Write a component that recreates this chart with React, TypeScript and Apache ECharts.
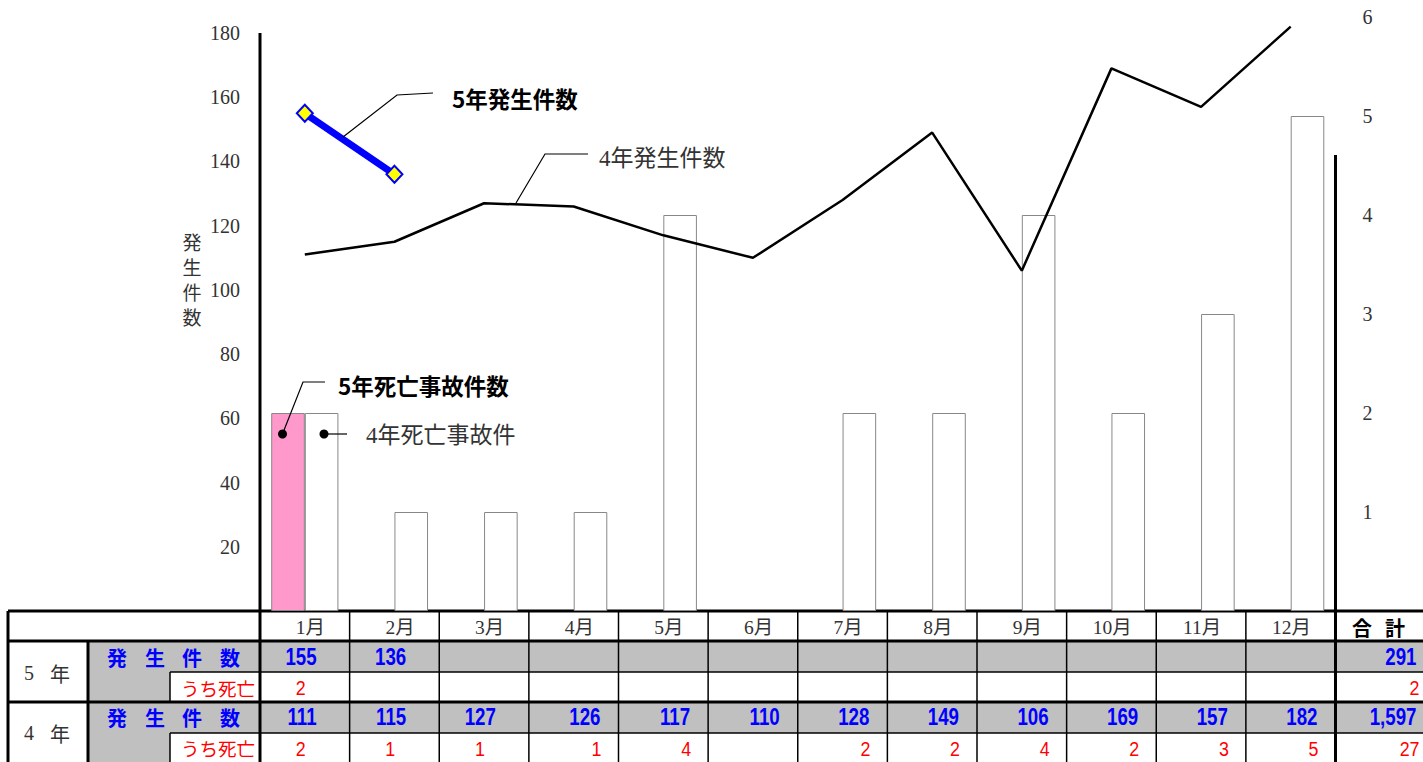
import React, { useEffect, useRef } from "react";
import * as echarts from "echarts";

// ---------- data ----------
const MONTHS = ["1月", "2月", "3月", "4月", "5月", "6月", "7月", "8月", "9月", "10月", "11月", "12月"];
const CASES_R5: (number | null)[] = [155, 136, null, null, null, null, null, null, null, null, null, null];
const DEATHS_R5: (number | null)[] = [2, null, null, null, null, null, null, null, null, null, null, null];
const CASES_R4: (number | null)[] = [111, 115, 127, 126, 117, 110, 128, 149, 106, 169, 157, 182];
const DEATHS_R4: (number | null)[] = [2, 1, 1, 1, 4, null, 2, 2, 4, 2, 3, 5];
const LEFT_MAX = 185;
const LEFT_STEP = 20;
const RIGHT_MAX = 6;
const RIGHT_STEP = 1;

// ---------- layout ----------
const W = 1423;
const H = 762;
const GRID_L = 260;
const GRID_R = 1335.5;
const GRID_T = 17;
const GRID_B = 611;
const SERIF = "'Liberation Serif','Noto Sans CJK JP',serif";
const GOTHIC = "'Noto Sans CJK JP','Liberation Sans',sans-serif";
const NUM = "'Liberation Sans',Arial,sans-serif";

const sum = (a: (number | null)[]) => a.reduce((s: number, v) => s + (v ?? 0), 0);
const fmt = (n: number) => n.toLocaleString("en-US");

function buildGraphic() {
  const g: any[] = [];
  const colW = (GRID_R - GRID_L) / 12;
  const colRight = (i: number) => GRID_L + (i + 1) * colW;
  const line = (x1: number, y1: number, x2: number, y2: number, w: number) =>
    g.push({ type: "line", silent: true, shape: { x1, y1, x2, y2 }, style: { stroke: "#000", lineWidth: w } });
  const rect = (x: number, y: number, w: number, h: number, fill: string) =>
    g.push({ type: "rect", silent: true, shape: { x, y, width: w, height: h }, style: { fill } });
  const text = (x: number, y: number, t: string, font: string, fill: string, align = "left", scaleX = 1, z = 0) =>
    g.push({
      type: "text",
      silent: true,
      x,
      y,
      z,
      scaleX,
      style: { text: t, font, fill, align, verticalAlign: "middle" },
    });

  // table gray cells
  const rows = [611, 641, 672, 702, 733, 762];
  rect(88, rows[1], W - 88, rows[2] - rows[1], "#C0C0C0");
  rect(88, rows[2], 82, rows[3] - rows[2], "#C0C0C0");
  rect(88, rows[3], W - 88, rows[4] - rows[3], "#C0C0C0");
  rect(88, rows[4], 82, rows[5] - rows[4], "#C0C0C0");

  // table lines
  line(8, rows[0], W, rows[0], 3);
  line(8, rows[1], W, rows[1], 3);
  line(170, rows[2], W, rows[2], 1.5);
  line(8, rows[3], W, rows[3], 3);
  line(170, rows[4], W, rows[4], 1.5);
  line(8, rows[0], 8, H, 3);
  line(88, rows[1], 88, H, 3);
  line(170, rows[2], 170, rows[3], 1.5);
  line(170, rows[4], 170, H, 1.5);
  for (let i = 0; i < 11; i++) line(colRight(i), rows[0], colRight(i), H, 1.5);
  // axis lines (continuing into table)
  line(GRID_L, 33, GRID_L, H, 3);
  line(GRID_R, 155, GRID_R, H, 3);

  // header row
  MONTHS.forEach((m, i) => text(colRight(i) - 24.5, 627, m, `19.5px ${SERIF}`, "#333", "right"));
  text(1362, 627, "合", `bold 20px ${GOTHIC}`, "#000", "center");
  text(1395, 627, "計", `bold 20px ${GOTHIC}`, "#000", "center");

  // left labels
  const yearRows = [
    { label: "5", cy: 673, casesY: 657, deathsY: 687.5, cases: CASES_R5, deaths: DEATHS_R5 },
    { label: "4", cy: 733, casesY: 717.5, deathsY: 748, cases: CASES_R4, deaths: DEATHS_R4 },
  ];
  const hdrChars = ["発", "生", "件", "数"];
  const hdrX = [117, 155, 192, 230];
  yearRows.forEach((r) => {
    text(29, r.cy, r.label, `20px ${SERIF}`, "#333", "center");
    text(60, r.cy, "年", `20px ${GOTHIC}`, "#333", "center");
    hdrChars.forEach((c, k) => text(hdrX[k], r.casesY, c, `bold 20px ${GOTHIC}`, "#0000FF", "center"));
    text(255, r.deathsY, "うち死亡", `18.5px ${GOTHIC}`, "#FF0000", "right");
    r.cases.forEach((v, i) => {
      if (v == null) return;
      text(colRight(i) - (i < 3 ? 33 : 18), r.casesY, String(v), `bold 24px ${NUM}`, "#0000FF", "right", 0.78);
    });
    r.deaths.forEach((v, i) => {
      if (v == null) return;
      text(colRight(i) - (i < 3 ? 49 : 22), r.deathsY, String(v), `21px ${NUM}`, "#FF0000", "center", 0.85);
    });
    text(1416.5, r.casesY, fmt(sum(r.cases)), `bold 24px ${NUM}`, "#0000FF", "right", 0.78);
    text(1419.5, r.deathsY, fmt(sum(r.deaths)), `21px ${NUM}`, "#FF0000", "right", 0.85);
  });

  // y-axis title
  g.push({
    type: "text",
    silent: true,
    x: 192,
    y: 279,
    style: {
      text: "発\n生\n件\n数",
      font: `19px ${GOTHIC}`,
      fill: "#333",
      align: "center",
      verticalAlign: "middle",
      lineHeight: 25,
    },
  });

  // annotations (above the series)
  const Z = 50;
  const poly = (pts: number[][]) =>
    g.push({ type: "polyline", silent: true, z: Z, shape: { points: pts }, style: { stroke: "#000", lineWidth: 1.2, fill: null } });
  const dot = (cx: number, cy: number) =>
    g.push({ type: "circle", silent: true, z: Z, shape: { cx, cy, r: 4.5 }, style: { fill: "#000" } });
  poly([[343, 137], [397, 95], [433, 93]]);
  text(452, 98, "5年発生件数", `bold 22.5px ${GOTHIC}`, "#000", "left", 1, Z);
  poly([[516, 203], [545, 154], [588, 154]]);
  text(599, 158, "4年発生件数", `23px ${SERIF}`, "#333", "left", 1, Z);
  poly([[282.5, 434], [303, 382], [325, 382]]);
  dot(282.5, 434);
  text(338, 385, "5年死亡事故件数", `bold 22.5px ${GOTHIC}`, "#000", "left", 1, Z);
  poly([[324, 434], [347, 434]]);
  dot(324, 434);
  text(366, 435, "4年死亡事故件", `23px ${SERIF}`, "#333", "left", 1, Z);

  return g;
}

export default function App() {
  const ref = useRef<HTMLDivElement>(null);
  useEffect(() => {
    if (!ref.current) return;
    const chart = echarts.init(ref.current, null, { renderer: "svg" });
    chart.setOption({
      animation: false,
      backgroundColor: "#fff",
      grid: { left: GRID_L, right: W - GRID_R, top: GRID_T, bottom: H - GRID_B, containLabel: false },
      xAxis: {
        type: "category",
        data: MONTHS,
        boundaryGap: true,
        axisLine: { show: false },
        axisTick: { show: false },
        axisLabel: { show: false },
        splitLine: { show: false },
      },
      yAxis: [
        {
          type: "value",
          min: 0,
          max: LEFT_MAX,
          interval: LEFT_STEP,
          axisLine: { show: false },
          axisTick: { show: false },
          splitLine: { show: false },
          axisLabel: {
            margin: 20,
            color: "#333",
            fontSize: 20,
            fontFamily: SERIF,
            formatter: (v: number) => (v === 0 || v % LEFT_STEP !== 0 ? "" : String(v)),
          },
        },
        {
          type: "value",
          position: "right",
          min: 0,
          max: RIGHT_MAX,
          interval: RIGHT_STEP,
          axisLine: { show: false },
          axisTick: { show: false },
          splitLine: { show: false },
          axisLabel: {
            margin: 27,
            color: "#333",
            fontSize: 20,
            fontFamily: SERIF,
            formatter: (v: number) => (v === 0 ? "" : String(v)),
          },
        },
      ],
      series: [
        {
          type: "bar",
          name: "5年死亡事故件数",
          yAxisIndex: 1,
          data: DEATHS_R5,
          barWidth: 33.6,
          barGap: "0%",
          itemStyle: { color: "#FF99CC", borderColor: "#888", borderWidth: 1 },
        },
        {
          type: "bar",
          name: "4年死亡事故件",
          yAxisIndex: 1,
          data: DEATHS_R4,
          barWidth: 33.6,
          barGap: "0%",
          itemStyle: { color: "#fff", borderColor: "#888", borderWidth: 1 },
        },
        {
          type: "line",
          name: "4年発生件数",
          yAxisIndex: 0,
          data: CASES_R4,
          symbol: "none",
          lineStyle: { color: "#000", width: 2.5 },
        },
        {
          type: "line",
          name: "5年発生件数",
          yAxisIndex: 0,
          data: CASES_R5,
          symbol: "diamond",
          symbolSize: [16, 17],
          lineStyle: { color: "#0000FF", width: 7 },
          itemStyle: { color: "#FFFF00", borderColor: "#0000FF", borderWidth: 2 },
        },
      ],
      graphic: buildGraphic(),
    });
    return () => chart.dispose();
  }, []);
  return <div ref={ref} style={{ position: "fixed", left: 0, top: 0, width: W, height: H }} />;
}
